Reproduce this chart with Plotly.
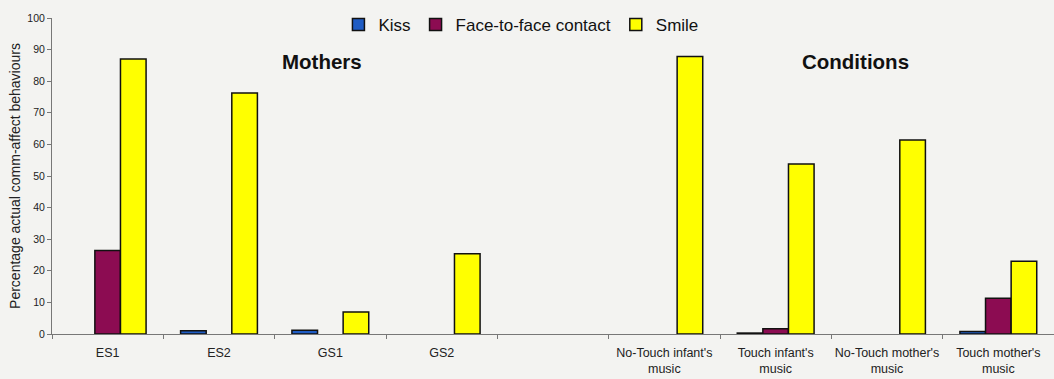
import plotly.graph_objects as go

categories = ["ES1", "ES2", "GS1", "GS2", " ",
              "No-Touch infant's<br>music", "Touch infant's<br>music",
              "No-Touch mother's<br>music", "Touch mother's<br>music"]
kiss = [None, 1.0, 1.2, None, None, None, 0.3, None, 0.8]
face = [26.4, None, None, None, None, None, 1.7, None, 11.3]
smile = [87.0, 76.3, 7.0, 25.4, None, 87.8, 53.8, 61.4, 23.0]

series = [("Kiss", kiss, "#1f5cc4"),
          ("Face-to-face contact", face, "#8c0c52"),
          ("Smile", smile, "#ffff00")]

fig = go.Figure()
for name, vals, col in series:
    fig.add_trace(go.Bar(x=categories, y=vals, name=name,
                         marker=dict(color=col, line=dict(color="#111111", width=1.5))))

fig.update_layout(
    width=1054, height=379,
    margin=dict(l=52, r=0, t=18, b=45),
    paper_bgcolor="#f3f3f1", plot_bgcolor="#f3f3f1",
    barmode="group", bargap=0.31, bargroupgap=0,
    font=dict(family="Liberation Sans, Arial, sans-serif", color="#222"),
    legend=dict(orientation="h", x=0.468, xanchor="center", y=0.978, yanchor="middle",
                font=dict(size=17, color="#111"), bgcolor="rgba(0,0,0,0)",
                itemwidth=30, traceorder="normal"),
    xaxis=dict(showline=True, linecolor="#777", linewidth=1, ticks="outside",
               tickson="boundaries", ticklen=4, tickcolor="#777", automargin=False,
               tickangle=0, ticklabelstandoff=7,
               tickfont=dict(size=12.5, color="#222"), showgrid=False),
    yaxis=dict(range=[0, 100], dtick=10, showline=True, linecolor="#777", linewidth=1,
               ticks="outside", ticklen=4, tickcolor="#777", showgrid=False,
               zeroline=False, tickfont=dict(size=10.5, color="#222"), automargin=False,
               title=dict(text="Percentage actual comm-affect behaviours",
                          font=dict(size=14, color="#222"), standoff=3)),
    annotations=[
        dict(text="<b>Mothers</b>", x=0.269, y=0.861, xref="paper", yref="paper",
             xanchor="center", yanchor="middle",
             showarrow=False, font=dict(size=20.5, color="#111")),
        dict(text="<b>Conditions</b>", x=0.802, y=0.861, xref="paper", yref="paper",
             xanchor="center", yanchor="middle",
             showarrow=False, font=dict(size=20.5, color="#111")),
    ],
)

fig.write_html("out.html", config={"displayModeBar": False},
               post_script="document.body.style.margin='0';document.body.style.background='#f3f3f1';")
